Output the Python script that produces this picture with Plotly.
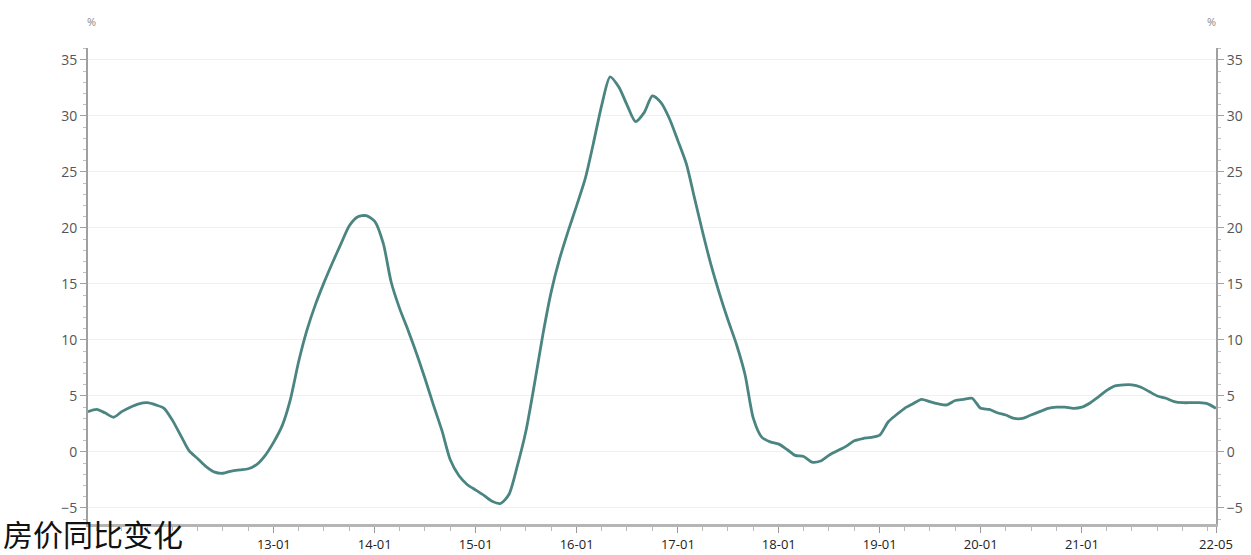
import plotly.graph_objects as go
import pandas as pd

# ---- data (monthly, %) ----
start_month = "2011-03-01"
yoy_values = [
    3.6, 3.8, 3.5, 3.1, 3.6, 4.0, 4.3, 4.4, 4.2, 3.9,
    2.8, 1.4, 0.1, -0.6, -1.3, -1.8, -1.9, -1.7, -1.6, -1.5,
    -1.1, -0.3, 0.9, 2.4, 4.6, 8.1, 10.9, 13.2, 15.1, 16.9,
    18.6, 20.2, 21.0, 21.1, 20.6, 18.6, 15.2, 12.8, 10.9, 8.8,
    6.6, 4.2, 1.9, -0.7, -2.1, -2.9, -3.4, -3.9, -4.4, -4.6,
    -3.8, -1.2, 1.8, 6.0, 10.5, 14.3, 17.3, 19.7, 22.0, 24.4,
    27.5, 31.0, 33.5, 32.6, 31.0, 29.5, 30.3, 31.8, 31.2, 29.8,
    27.8, 25.7, 22.8, 19.6, 16.7, 14.1, 11.8, 9.6, 6.9, 3.0,
    1.3, 0.9, 0.7, 0.2, -0.3, -0.4, -0.9, -0.8, -0.3, 0.1,
    0.5, 1.0, 1.2, 1.3, 1.5, 2.7, 3.3, 3.9, 4.3, 4.7,
    4.5, 4.3, 4.2, 4.6, 4.7, 4.8, 3.9, 3.8, 3.5, 3.3,
    3.0, 3.0, 3.3, 3.6, 3.9, 4.0, 4.0, 3.9, 4.0, 4.4,
    4.9, 5.5, 5.9, 6.0, 6.0, 5.8, 5.4, 5.0, 4.8, 4.5,
    4.4, 4.4, 4.4, 4.3, 3.9,
]
dates = pd.date_range(start_month, periods=len(yoy_values), freq="MS")

x_tick_vals = ["2013-01-01", "2014-01-01", "2015-01-01", "2016-01-01", "2017-01-01",
               "2018-01-01", "2019-01-01", "2020-01-01", "2021-01-01", "2022-05-01"]
x_tick_text = ["13-01", "14-01", "15-01", "16-01", "17-01",
               "18-01", "19-01", "20-01", "21-01", "22-05"]
y_tick_vals = [-5, 0, 5, 10, 15, 20, 25, 30, 35]
y_range = [-6.43, 36.07]
title_text = "房价同比变化"
unit_text = "%"

LINE = "#4a8582"
AX = "#a0a0a0"
TXT = "#555555"

fig = go.Figure()
fig.add_trace(go.Scatter(
    x=dates, y=yoy_values, mode="lines",
    line=dict(color=LINE, width=2.8, shape="spline", smoothing=0.7),
    hoverinfo="skip", showlegend=False,
))
fig.add_trace(go.Scatter(
    x=dates, y=yoy_values, mode="lines", yaxis="y2",
    line=dict(color="rgba(0,0,0,0)", width=0),
    hoverinfo="skip", showlegend=False,
))

yaxis_common = dict(
    range=y_range, tickvals=y_tick_vals, showline=True, linecolor=AX, linewidth=2,
    ticks="outside", ticklen=6, tickwidth=1, tickcolor=AX,
    minor=dict(dtick=1, ticks="outside", ticklen=3, tickcolor="#c0c0c0", showgrid=False),
    tickfont=dict(family="Open Sans", size=14, color=TXT),
    zeroline=False, automargin=False,
)

fig.update_layout(
    width=1251, height=555,
    margin=dict(l=88, r=35, t=48, b=31, autoexpand=False),
    paper_bgcolor="white", plot_bgcolor="white",
    title=dict(text=title_text, x=3 / 1251, xanchor="left", xref="container",
               y=1 - 535 / 555, yanchor="middle", yref="container",
               font=dict(family="Noto Sans CJK SC", size=30, color="#111111")),
    xaxis=dict(
        range=[dates[0], dates[-1]], tickvals=x_tick_vals, ticktext=x_tick_text,
        showline=True, linecolor="#b5b5b5", linewidth=3, showgrid=False,
        ticks="outside", ticklen=6, tickwidth=1, tickcolor="#999999",
        minor=dict(dtick="M3", ticks="outside", ticklen=4, tickcolor="#bbbbbb", showgrid=False),
        tickfont=dict(family="Open Sans", size=13, color="#222222"),
        ticklabelstandoff=0, automargin=False,
    ),
    yaxis=dict(**yaxis_common, side="left", showgrid=True, gridcolor="#f0f0f0", gridwidth=1),
    yaxis2=dict(**yaxis_common, side="right", overlaying="y", showgrid=False),
)
# unit labels above the two vertical axes
fig.layout.annotations = [
    dict(text=unit_text, x=-3 / 1128, y=1 + 26 / 476, xref="paper", yref="paper",
         yanchor="middle", showarrow=False,
         font=dict(family="Open Sans", size=11, color="#888888")),
    dict(text=unit_text, x=1 + 2 / 1128, y=1 + 26 / 476, xref="paper", yref="paper",
         yanchor="middle", showarrow=False,
         font=dict(family="Open Sans", size=11, color="#888888")),
]

fig.write_html(
    "out.html",
    config={"displayModeBar": False},
    post_script="document.body.style.margin='0';document.body.style.overflow='hidden';",
)
